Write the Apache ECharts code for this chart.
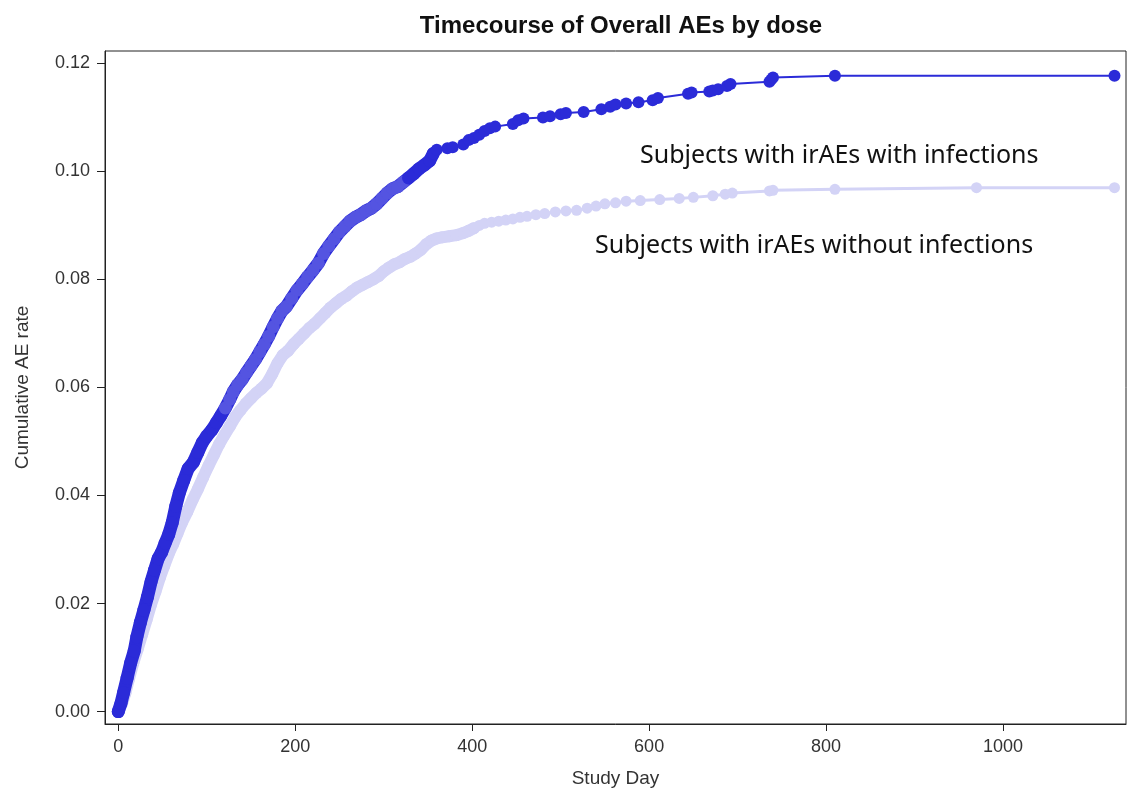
<!DOCTYPE html>
<html lang="en">
<head>
    <meta charset="UTF-8"/>
    <title>Timecourse of Overall AEs by dose</title>
    <script src="https://cdn.jsdelivr.net/npm/echarts@6.0.0/dist/echarts.min.js"></script>
    <style>
        html, body { margin: 0; padding: 0; background: #fff; }
    </style>
</head>
<body>
<div id="main" style="width: 1132px;height:791px;"></div>

<script type="text/javascript">
    // tick labels
    var dayTicks = [0, 200, 400, 600, 800, 1000];
    var rateTicks = [0, 0.02, 0.04, 0.06, 0.08, 0.10, 0.12];

    // subjects with irAEs with infections (dense early part, then sparse tail)
    var withEarlyDays = [0, 3, 6, 10, 14, 18, 21, 25, 29, 33, 37, 41, 45, 49, 53, 57, 61, 65, 69, 74,
        79, 85, 90, 95, 100, 106, 111, 116, 121, 126, 130, 135, 140, 145, 150, 155, 160, 165, 170, 175,
        180, 185, 190, 196, 202, 208, 214, 220, 226, 232, 238, 244, 250, 256, 262, 268, 274, 280, 286, 292,
        298, 304, 310, 316, 322, 328, 334, 340, 346, 352, 356];
    var withEarlyRate = [0.0000, 0.0015, 0.0035, 0.0062, 0.0090, 0.0112, 0.0138, 0.0165, 0.0188, 0.0212,
        0.0240, 0.0262, 0.0283, 0.0295, 0.0312, 0.0328, 0.0350, 0.0380, 0.0405, 0.0428,
        0.0450, 0.0462, 0.0480, 0.0498, 0.0510, 0.0522, 0.0535, 0.0548, 0.0562, 0.0578,
        0.0592, 0.0605, 0.0615, 0.0628, 0.0640, 0.0652, 0.0666, 0.0680, 0.0695, 0.0712,
        0.0728, 0.0742, 0.0750, 0.0765, 0.0780, 0.0792, 0.0805, 0.0817, 0.0830, 0.0848,
        0.0862, 0.0875, 0.0888, 0.0898, 0.0908, 0.0915, 0.0920, 0.0927, 0.0932, 0.0940,
        0.0950, 0.0960, 0.0968, 0.0972, 0.0980, 0.0988, 0.0996, 0.1005, 0.1012, 0.1020,
        0.1033];
    var withLateDays = [356, 360, 372, 378, 390, 396, 402, 408, 414, 420,
        426, 446, 452, 458, 480, 488, 500, 506, 526, 546, 556, 562, 574, 588, 604, 610, 644, 648, 668, 672,
        678, 688, 692, 736, 738, 740, 810, 1126];
    var withLateRate = [0.1033, 0.1040, 0.1043, 0.1045, 0.1050, 0.1058, 0.1062, 0.1068, 0.1075, 0.1080,
        0.1083, 0.1088, 0.1095, 0.1098, 0.1100, 0.1102, 0.1106, 0.1108, 0.1110, 0.1115,
        0.1120, 0.1124, 0.1126, 0.1128, 0.1132, 0.1136, 0.1144, 0.1146, 0.1148, 0.1150,
        0.1152, 0.1158, 0.1162, 0.1166, 0.1170, 0.1174, 0.1177, 0.1177];

    // subjects with irAEs without infections
    var withoutEarlyDays = [0, 4, 8, 12, 17, 22, 27, 32, 37, 42, 47, 52, 57, 62, 67, 72, 78, 84, 90, 96,
        102, 108, 114, 120, 126, 132, 138, 144, 150, 156, 162, 168, 174, 180, 186, 192, 198, 204, 210, 216,
        222, 228, 234, 240, 246, 252, 258, 264, 270, 276, 282, 288, 294, 300, 306, 312, 318, 324, 330, 336,
        342, 348, 354, 360, 366, 374, 382, 390, 396, 402];
    var withoutEarlyRate = [0.0000, 0.0014, 0.0034, 0.0060, 0.0090, 0.0116, 0.0143, 0.0170, 0.0198, 0.0222,
        0.0248, 0.0270, 0.0292, 0.0310, 0.0330, 0.0350, 0.0370, 0.0392, 0.0412, 0.0434,
        0.0455, 0.0475, 0.0495, 0.0512, 0.0528, 0.0545, 0.0558, 0.0570, 0.0580, 0.0590,
        0.0598, 0.0608, 0.0625, 0.0645, 0.0660, 0.0668, 0.0680, 0.0690, 0.0700, 0.0710,
        0.0718, 0.0728, 0.0738, 0.0748, 0.0756, 0.0764, 0.0770, 0.0778, 0.0785, 0.0790,
        0.0795, 0.0800, 0.0806, 0.0815, 0.0822, 0.0828, 0.0832, 0.0838, 0.0842, 0.0848,
        0.0855, 0.0865, 0.0872, 0.0876, 0.0878, 0.0880, 0.0882, 0.0886, 0.0890, 0.0895];
    var withoutLateDays = [402, 408, 414, 422, 430, 438, 446, 454, 462, 472, 482,
        494, 506, 518, 530, 540, 550, 562, 574, 590, 612, 634, 650, 672, 686, 694, 736, 740, 810, 970, 1126];
    var withoutLateRate = [0.0895, 0.0900, 0.0904, 0.0906, 0.0908, 0.0910, 0.0912, 0.0915, 0.0917, 0.0920, 0.0922,
        0.0925, 0.0927, 0.0928, 0.0932, 0.0936, 0.0940, 0.0942, 0.0945, 0.0946, 0.0948,
        0.0950, 0.0952, 0.0955, 0.0958, 0.0960, 0.0964, 0.0965, 0.0967, 0.0970, 0.0970];

    function pairs(xs, ys) {
        var out = [];
        for (var i = 0; i < xs.length; i++) {
            out.push([xs[i], ys[i]]);
        }
        return out;
    }

    var darkBlue = '#2b2bd8';
    var midBlue = '#5454e1';
    var lightBlue = '#d3d3f6';
    var axisFont = { fontFamily: 'Liberation Sans', fontSize: 18, color: '#333' };
    var nameFont = { fontFamily: 'Liberation Sans', fontSize: 19, color: '#333' };

    function curve(name, data, color, lineWidth, size, z) {
        return {
            name: name,
            type: 'line',
            data: data,
            symbol: 'circle',
            symbolSize: size,
            itemStyle: { color: color },
            lineStyle: { color: color, width: lineWidth, cap: 'round', join: 'round' },
            z: z
        };
    }

    var myChart = echarts.init(document.getElementById('main'));

    var option = {
        animation: false,
        title: {
            text: 'Timecourse of Overall AEs by dose',
            left: 616,
            textAlign: 'center',
            top: 9,
            textStyle: { fontFamily: 'Liberation Sans', fontSize: 24, fontWeight: 'bold', color: '#111' }
        },
        grid: {
            left: 105, top: 51, right: 6, bottom: 67,
            outerBoundsMode: 'none',
            show: true, borderColor: '#222', borderWidth: 1
        },
        xAxis: {
            type: 'value',
            min: -15,
            max: 1139,
            name: 'Study Day',
            nameLocation: 'middle',
            nameGap: 45,
            nameTextStyle: nameFont,
            axisLine: { show: true, onZero: false, lineStyle: { color: '#222' } },
            axisTick: { show: true, length: 7, customValues: dayTicks, lineStyle: { color: '#222' } },
            axisLabel: Object.assign({
                customValues: dayTicks, margin: 14,
                formatter: function (v) { return String(v); }
            }, axisFont),
            splitLine: { show: false }
        },
        yAxis: {
            type: 'value',
            min: -0.0023,
            max: 0.1223,
            name: 'Cumulative AE rate',
            nameLocation: 'middle',
            nameGap: 73,
            nameTextStyle: nameFont,
            axisLine: { show: true, onZero: false, lineStyle: { color: '#222' } },
            axisTick: { show: true, length: 8, customValues: rateTicks, lineStyle: { color: '#222' } },
            axisLabel: Object.assign({
                customValues: rateTicks, margin: 15,
                formatter: function (v) { return v.toFixed(2); }
            }, axisFont),
            splitLine: { show: false }
        },
        visualMap: {
            show: false,
            type: 'piecewise',
            seriesIndex: 2,
            dimension: 1,
            pieces: [
                { lt: 0.055, color: darkBlue },
                { gte: 0.055, lt: 0.0988, color: midBlue },
                { gte: 0.0988, color: darkBlue }
            ]
        },
        graphic: [
            {
                type: 'text', left: 640, top: 143,
                style: { text: 'Subjects with irAEs with infections', fontFamily: 'Noto Sans', fontSize: 25, fill: '#111' }
            },
            {
                type: 'text', left: 595, top: 233,
                style: { text: 'Subjects with irAEs without infections', fontFamily: 'Noto Sans', fontSize: 25, fill: '#111' }
            }
        ],
        series: [
            curve('Subjects with irAEs without infections', pairs(withoutEarlyDays, withoutEarlyRate), lightBlue, 12, 12, 2),
            curve('Subjects with irAEs without infections', pairs(withoutLateDays, withoutLateRate), lightBlue, 3, 11, 2),
            curve('Subjects with irAEs with infections', pairs(withEarlyDays, withEarlyRate), darkBlue, 13, 13, 3),
            curve('Subjects with irAEs with infections', pairs(withLateDays, withLateRate), darkBlue, 2, 12, 3)
        ]
    };

    myChart.setOption(option);
</script>

</body>
</html>
